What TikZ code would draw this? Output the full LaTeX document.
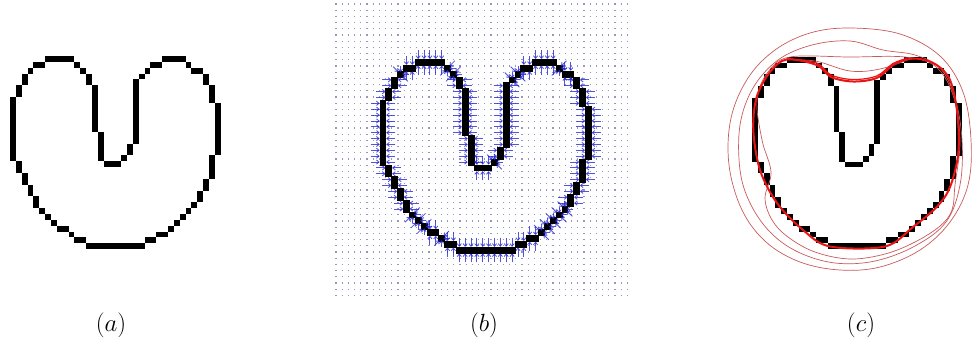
\documentclass[tikz,border=0pt]{standalone}
\usetikzlibrary{arrows.meta}
\definecolor{quivc}{RGB}{40,40,210}
\definecolor{dotc}{RGB}{150,150,190}
\definecolor{snakefin}{RGB}{235,20,20}
\definecolor{snakeit}{RGB}{200,90,90}
\newcommand{\heartcells}[1][]{%
  \foreach \pa/\pb/\pc/\pd in {6/0/11/1,11/1/12/2,12/2/13/3,13/3/14/5,14/5/15/13,15/13/16/18,16/18/19/19,19/17/20/18,20/15/21/17,21/4/22/15,22/3/23/4,23/2/24/3,24/1/26/2,26/0/30/1,30/1/31/2,31/2/33/3,33/3/34/5,34/5/35/8,35/8/36/17,34/17/35/21,33/21/34/23,32/23/33/25,31/25/32/26,30/26/31/27,29/27/30/28,28/28/29/29,27/29/28/30,25/30/27/31,23/31/25/32,13/32/23/33,11/31/13/32,10/30/11/31,8/29/10/30,7/28/8/29,6/27/7/28,5/26/6/27,4/24/5/26,3/22/4/24,2/20/3/22,1/18/2/20,0/7/1/18,1/5/2/7,2/3/3/5,3/2/4/3,4/1/6/2}
  {\fill[#1] (\pa,\pb) rectangle (\pc,\pd);}}
\tikzset{
  arr/.style={quivc, opacity=0.8, line width=0.85pt, -{Straight Barb[length=2.6pt,width=4.2pt]}},
  lbl/.style={font=\fontsize{24.88}{30}\selectfont, inner sep=0pt},
  thinsnake/.style={snakeit, line width=0.7pt},
  finsnake/.style={snakefin, line width=2pt}
}
\begin{document}
\begin{tikzpicture}[x=1pt,y=-1pt]
\useasboundingbox (0,0) rectangle (974,349);
\fill[white] (0,0) rectangle (974,349);

% ---------- (a)
\begin{scope}[shift={(10,56)},x=5.85pt,y=-5.85pt]
  \heartcells
\end{scope}

% ---------- (b) dot grid
\foreach \j in {0,...,47} {
  \draw[dotc, line width=1.1pt, dash pattern=on 1.1pt off 5.1pt] (335.4,4+\j*6.2) -- (629,4+\j*6.2);
}
\begin{scope}[shift={(380,59.3)},x=5.87pt,y=-5.87pt]
  \heartcells[draw=black,line width=0.8pt]
  % vertical runs: col / first row / last row+1
  \foreach \vc/\va/\vb in {13/3/5,14/5/13,15/13/18,20/15/17,21/4/15,33/3/5,34/5/8,35/8/17,34/17/21,33/21/23,32/23/25,4/24/26,3/22/24,2/20/22,1/18/20,0/7/18,1/5/7,2/3/5} {
    \pgfmathtruncatemacro\vl{\vb-1}
    \foreach \r in {\va,...,\vl} {
      \draw[arr] (\vc-1.6,\r+0.5) -- (\vc-0.05,\r+0.5);
      \draw[arr] (\vc+2.6,\r+0.5) -- (\vc+1.05,\r+0.5);
    }
  }
  % horizontal runs: row / first col / last col+1
  \foreach \hr/\ha/\hb in {0/6/11,18/16/19,1/24/26,0/26/30,2/31/33,30/25/27,31/23/25,32/13/23,31/11/13,29/8/10,1/4/6} {
    \pgfmathtruncatemacro\hl{\hb-1}
    \foreach \cc in {\ha,...,\hl} {
      \draw[arr] (\cc+0.5,\hr-1.6) -- (\cc+0.5,\hr-0.05);
      \draw[arr] (\cc+0.5,\hr+2.6) -- (\cc+0.5,\hr+1.05);
    }
  }
  % diagonal step cells: col / row / normal axis
  \foreach \dc/\dr/\dx/\dy in {11/1/1/-1,12/2/1/-1,19/17/1/1,22/3/1/1,23/2/1/1,30/1/1/-1,31/25/1/1,30/26/1/1,29/27/1/1,28/28/1/1,27/29/1/1,10/30/1/-1,7/28/1/-1,6/27/1/-1,5/26/1/-1,3/2/1/1} {
    \draw[arr] (\dc+0.5+1.25*\dx,\dr+0.5+1.25*\dy) -- (\dc+0.5+0.35*\dx,\dr+0.5+0.35*\dy);
    \draw[arr] (\dc+0.5-1.25*\dx,\dr+0.5-1.25*\dy) -- (\dc+0.5-0.35*\dx,\dr+0.5-0.35*\dy);
    \draw[arr] (\dc+0.5+1.4*\dx,\dr+0.5) -- (\dc+0.5+0.3*\dx,\dr+0.5);
    \draw[arr] (\dc+0.5,\dr+0.5-1.4*\dy) -- (\dc+0.5,\dr+0.5-0.3*\dy);
  }
\end{scope}

% ---------- (c)
\begin{scope}[shift={(752,56.7)},x=5.83pt,y=-5.83pt]
  \heartcells
\end{scope}
\draw[thinsnake] plot[smooth cycle, tension=0.6] coordinates {
  (850,28) (900,34) (940,56) (963,92) (971,140) (968,185) (950,222) (920,250)
  (880,267) (840,270) (800,262) (766,242) (742,210) (729,165) (731,118) (748,78)
  (775,50) (810,33)};
\draw[thinsnake] plot[smooth cycle, tension=0.6] coordinates {
  (850,41) (883,50) (915,55) (940,68) (955,98) (962,140) (960,185) (946,222)
  (915,246) (875,261) (835,263) (798,252) (770,232) (750,203) (740,170) (740,125)
  (753,88) (778,60) (812,45)};
\draw[thinsnake] plot[smooth cycle, tension=0.6] coordinates {
  (790,57) (850,57) (905,57) (935,66) (953,95) (960,140) (955,185) (952,210)
  (940,226) (915,242) (885,254) (850,259) (815,252) (788,237) (772,220) (765,198)
  (771,172) (762,140) (757,100) (768,72)};
\draw[thinsnake] plot[smooth, tension=0.6] coordinates {
  (782,60) (815,61) (850,71) (880,69) (910,59)};
\draw[finsnake] plot[smooth cycle, tension=0.55] coordinates {
  (786.7,59.5) (816.7,65) (831,77) (853,81.5) (876.7,78) (893,65) (906.7,59.5)
  (920,59) (936.7,65) (950,80) (957.3,113) (958.3,153) (950,187) (936.7,207)
  (913,227) (885,246.5) (830,246.5) (803,230) (777,203) (760,170) (753.3,130)
  (756.7,97) (770,72)};
\draw[snakefin, line width=1.2pt] plot[smooth, tension=0.55] coordinates {
  (786.7,58.5) (816.7,63) (831,75) (853,79.5) (876.7,76) (893,63.5) (906.7,58.5)};

% ---------- labels
\node[lbl] (la) at (111,325.5) {$(a)$};
\node[lbl] (lb) at (484,325.5) {$(b)$};
\node[lbl] (lc) at (861,325.5) {$(c)$};
\end{tikzpicture}
\end{document}
